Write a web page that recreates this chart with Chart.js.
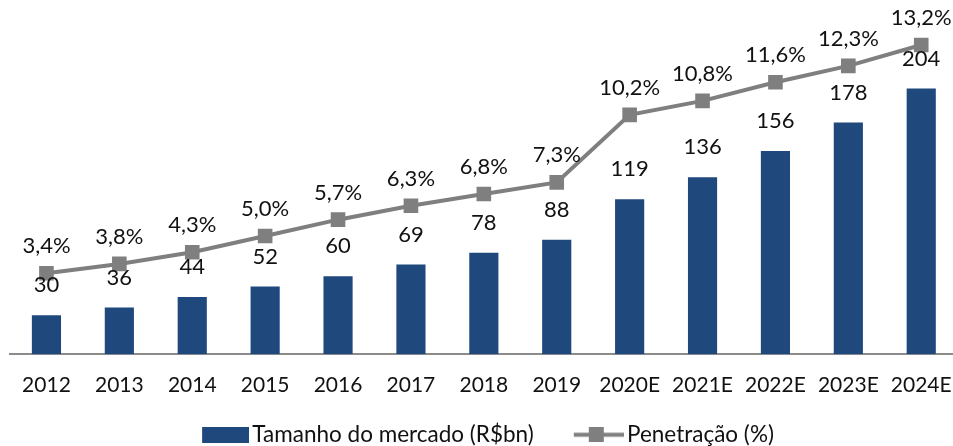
<!DOCTYPE html>
<html>
<head>
<meta charset="utf-8">
<script src="https://cdn.jsdelivr.net/npm/chart.js@4"></script>
<style>
  html, body { margin: 0; padding: 0; background: #fff; overflow: hidden; }
  #wrap { width: 953px; height: 446px; overflow: hidden; }
</style>
</head>
<body>
<div id="wrap"><canvas id="chart" width="970" height="456"></canvas></div>
<script>
// dados
const years = ["2012", "2013", "2014", "2015", "2016", "2017", "2018", "2019", "2020E", "2021E", "2022E", "2023E", "2024E"];
const marketSize = [30, 36, 44, 52, 60, 69, 78, 88, 119, 136, 156, 178, 204];
const penetration = [3.4, 3.8, 4.3, 5.0, 5.7, 6.3, 6.8, 7.3, 10.2, 10.8, 11.6, 12.3, 13.2];

const barLabel = "Tamanho do mercado (R$bn)";
const lineLabel = "Penetração (%)";

const BLUE = "#1F497D";
const GRAY = "#7F7F7F";
const FONT = "Lato, 'Open Sans', sans-serif";
const ICON_W = 74;          // largura do símbolo na legenda
const ICON_CANVAS = 90;     // imagem um pouco maior, encostada à direita

// ícones da legenda
function barIcon() {
  const c = document.createElement("canvas");
  c.width = ICON_CANVAS; c.height = 16;
  const ctx = c.getContext("2d");
  ctx.fillStyle = BLUE;
  ctx.fillRect(ICON_CANVAS - 47, 0, 47, 16);
  return c;
}

function lineIcon() {
  const c = document.createElement("canvas");
  c.width = ICON_CANVAS; c.height = 15;
  const ctx = c.getContext("2d");
  ctx.strokeStyle = GRAY;
  ctx.lineWidth = 4;
  ctx.beginPath();
  ctx.moveTo(ICON_CANVAS - 50, 7.5);
  ctx.lineTo(ICON_CANVAS, 7.5);
  ctx.stroke();
  ctx.fillStyle = GRAY;
  ctx.fillRect(ICON_CANVAS - 35, 0, 15, 15);
  return c;
}

// rótulos de valor
const valueLabels = {
  id: "valueLabels",
  afterDatasetsDraw(chart) {
    const ctx = chart.ctx;
    ctx.save();
    ctx.font = "22px " + FONT;
    ctx.fillStyle = "#111";
    ctx.textAlign = "center";
    ctx.textBaseline = "middle";
    chart.getDatasetMeta(0).data.forEach((el, i) => {
      ctx.fillText(String(marketSize[i]), el.x, el.y - 30);
    });
    chart.getDatasetMeta(1).data.forEach((el, i) => {
      ctx.fillText(penetration[i].toFixed(1).replace(".", ",") + "%", el.x, el.y - 27);
    });
    ctx.restore();
  }
};

// legenda um pouco à esquerda, como no original
const legendShift = {
  id: "legendShift",
  afterLayout(chart) {
    chart.legend.left -= 15;
    chart.legend.right -= 15;
  }
};

new Chart(document.getElementById("chart"), {
  type: "bar",
  data: {
    labels: years,
    datasets: [
      {
        type: "bar",
        label: barLabel,
        data: marketSize,
        backgroundColor: BLUE,
        yAxisID: "y",
        barPercentage: 0.4,
        categoryPercentage: 1,
        order: 2
      },
      {
        type: "line",
        label: lineLabel,
        data: penetration,
        borderColor: GRAY,
        backgroundColor: GRAY,
        borderWidth: 4,
        pointStyle: "rect",
        pointRadius: 7.5,
        pointHoverRadius: 7.5,
        tension: 0,
        clip: false,
        yAxisID: "y1",
        order: 1
      }
    ]
  },
  options: {
    responsive: false,
    animation: false,
    layout: { autoPadding: false, padding: { left: 10, right: 9, top: 0, bottom: 0 } },
    plugins: {
      tooltip: { enabled: false },
      legend: {
        position: "bottom",
        labels: {
          usePointStyle: true,
          pointStyleWidth: ICON_W,
          color: "#111",
          font: { family: FONT, size: 22.5 },
          padding: 8,
          generateLabels() {
            return [
              { text: barLabel, pointStyle: barIcon(), datasetIndex: 0, fontColor: "#111" },
              { text: lineLabel, pointStyle: lineIcon(), datasetIndex: 1, fontColor: "#111" }
            ];
          }
        }
      }
    },
    scales: {
      x: {
        grid: { display: false, drawTicks: false },
        border: { display: true, color: "#8c8c8c", width: 2 },
        ticks: { color: "#111", font: { family: FONT, size: 21 }, padding: 18, maxRotation: 0, autoSkip: false }
      },
      y: {
        display: false,
        min: 0,
        max: 272
      },
      y1: {
        display: false,
        min: -0.08,
        max: 15.13
      }
    }
  },
  plugins: [valueLabels, legendShift]
});
</script>
</body>
</html>
